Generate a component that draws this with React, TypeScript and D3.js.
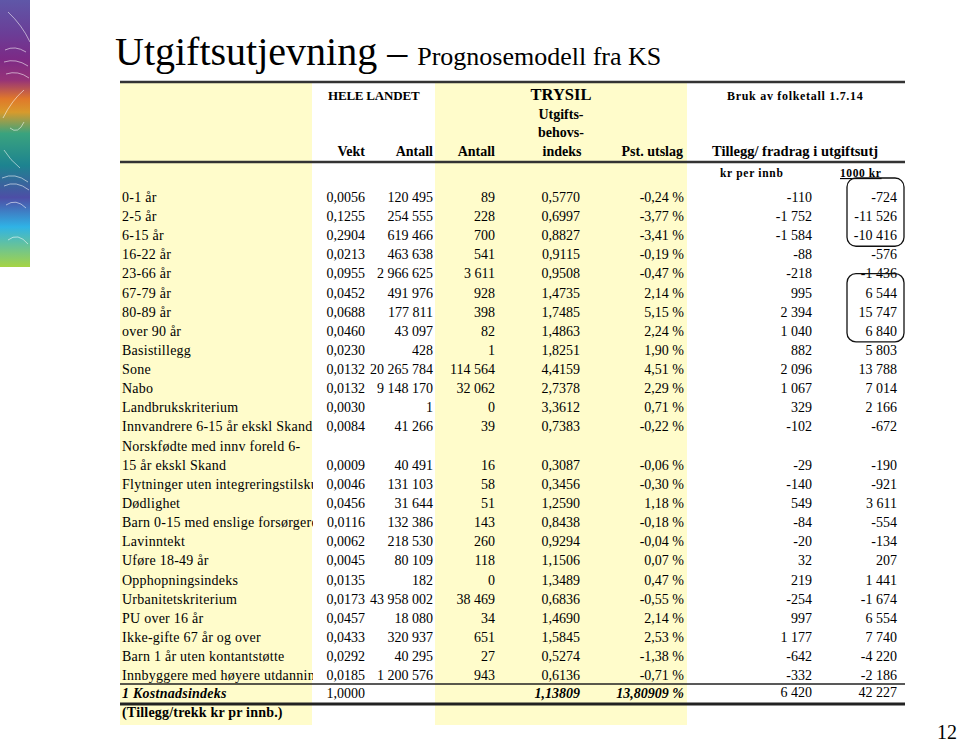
import React from "react";
import * as d3 from "d3";

const W = 959;
const H = 744;

// ---- data ----
const labels: string[][] = [
  ["0-1 år"], ["2-5 år"], ["6-15 år"], ["16-22 år"], ["23-66 år"], ["67-79 år"], ["80-89 år"],
  ["over 90 år"], ["Basistillegg"], ["Sone"], ["Nabo"], ["Landbrukskriterium"],
  ["Innvandrere 6-15 år ekskl Skand"],
  ["Norskfødte med innv foreld 6-", "15 år ekskl Skand"],
  ["Flytninger uten integreringstilskudd"], ["Dødlighet"], ["Barn 0-15 med enslige forsørgere"],
  ["Lavinntekt"], ["Uføre 18-49 år"], ["Opphopningsindeks"], ["Urbanitetskriterium"],
  ["PU over 16 år"], ["Ikke-gifte 67 år og over"], ["Barn 1 år uten kontantstøtte"],
  ["Innbyggere med høyere utdanning"],
];
const vekt = [0.0056, 0.1255, 0.2904, 0.0213, 0.0955, 0.0452, 0.0688, 0.0460, 0.0230, 0.0132, 0.0132, 0.0030, 0.0084, 0.0009, 0.0046, 0.0456, 0.0116, 0.0062, 0.0045, 0.0135, 0.0173, 0.0457, 0.0433, 0.0292, 0.0185];
const antallLandet = [120495, 254555, 619466, 463638, 2966625, 491976, 177811, 43097, 428, 20265784, 9148170, 1, 41266, 40491, 131103, 31644, 132386, 218530, 80109, 182, 43958002, 18080, 320937, 40295, 1200576];
const antallTrysil = [89, 228, 700, 541, 3611, 928, 398, 82, 1, 114564, 32062, 0, 39, 16, 58, 51, 143, 260, 118, 0, 38469, 34, 651, 27, 943];
const indeks = [0.5770, 0.6997, 0.8827, 0.9115, 0.9508, 1.4735, 1.7485, 1.4863, 1.8251, 4.4159, 2.7378, 3.3612, 0.7383, 0.3087, 0.3456, 1.2590, 0.8438, 0.9294, 1.1506, 1.3489, 0.6836, 1.4690, 1.5845, 0.5274, 0.6136];
const utslag = [-0.24, -3.77, -3.41, -0.19, -0.47, 2.14, 5.15, 2.24, 1.90, 4.51, 2.29, 0.71, -0.22, -0.06, -0.30, 1.18, -0.18, -0.04, 0.07, 0.47, -0.55, 2.14, 2.53, -1.38, -0.71];
const krPerInnb = [-110, -1752, -1584, -88, -218, 995, 2394, 1040, 882, 2096, 1067, 329, -102, -29, -140, 549, -84, -20, 32, 219, -254, 997, 1177, -642, -332];
const tusenKr = [-724, -11526, -10416, -576, -1436, 6544, 15747, 6840, 5803, 13788, 7014, 2166, -672, -190, -921, 3611, -554, -134, 207, 1441, -1674, 6554, 7740, -4220, -2186];

const totalLabel = "1 Kostnadsindeks";
const totalVekt = 1.0;
const totalIndeks = 1.13809;
const totalUtslag = 13.80909;
const totalKrPerInnb = 6420;
const totalTusenKr = 42227;

// boxed groups in "1000 kr" column (row index ranges)
const boxes: [number, number][] = [[0, 2], [5, 7]];

// ---- formatting ----
const loc = d3.formatLocale({ decimal: ",", thousands: " ", grouping: [3], currency: ["", " kr"], minus: "-" });
const f4 = loc.format(".4f");
const fInt = loc.format(",d");
const f2 = loc.format(".2f");
const f5 = loc.format(".5f");

const FONT = "'Liberation Serif', 'Times New Roman', serif";

export default function App() {
  // row positions: data item i -> visual row
  const rowOf = (i: number) => (i <= 12 ? i : i + 1);
  const y = d3.scaleLinear().domain([0, 27]).range([197, 197 + 27 * 19.13]);

  const x0 = 120, x1 = 905;
  const colRight = { vekt: 365, land: 433, trysil: 495, indeks: 580, utslag: 684, kr: 812, tusen: 897 };

  const yellow = "#fffccb";
  const gradStops = [
    [0, "#5f57a8"], [0.12, "#6a3f98"], [0.22, "#7c2a86"], [0.3, "#963378"], [0.37, "#e0782a"],
    [0.42, "#d89a2c"], [0.5, "#3aa37e"], [0.62, "#1d8390"], [0.74, "#4d4ea6"], [0.85, "#2fb3e6"], [1, "#a6d444"],
  ];

  const cell = (x: number, yy: number, text: string, extra: any = {}) => (
    <text x={x} y={yy} dy="0.35em" textAnchor="end" fontSize={14} {...extra}>{text}</text>
  );

  return (
    <svg width={W} height={H} style={{ position: "absolute", left: 0, top: 0, display: "block" }} fontFamily={FONT}>
      <defs>
        <linearGradient id="strip" x1="0" y1="0" x2="0" y2="1">
          {gradStops.map(([o, c], k) => <stop key={k} offset={o as number} stopColor={c as string} />)}
        </linearGradient>
        <clipPath id="labelClip"><rect x={118} y={0} width={195} height={H} /></clipPath>
      </defs>
      <rect x={0} y={0} width={W} height={H} fill="#fff" />
      {/* decorative strip */}
      <rect x={0} y={0} width={30} height={267} fill="url(#strip)" />
      <g fill="none" stroke="#fff" strokeOpacity={0.55} strokeWidth={1}>
        <path d="M8,12 Q22,25 30,42" />
        <path d="M5,50 Q15,45 26,52 M4,62 Q16,58 28,66 M6,74 Q18,70 29,78" />
        <path d="M3,118 Q12,100 24,90" />
        <path d="M10,128 Q18,135 24,122 M4,150 Q10,160 20,168" />
        <path d="M2,178 Q15,172 28,182 M4,186 Q16,180 29,190" />
        <path d="M6,205 Q16,198 26,208 M8,240 Q18,232 28,244" />
      </g>

      {/* title */}
      <text x={115} y={65} fill="#000">
        <tspan fontSize={40}>Utgiftsutjevning – </tspan>
        <tspan fontSize={26}>Prognosemodell fra KS</tspan>
      </text>

      {/* yellow backgrounds */}
      <rect x={x0} y={83} width={312 - x0} height={725 - 83} fill={yellow} />
      <rect x={435} y={83} width={687 - 435} height={725 - 83} fill={yellow} />

      {/* rules */}
      <line x1={x0} x2={x1} y1={82} y2={82} stroke="#333" strokeWidth={2.5} />
      <line x1={x0} x2={x1} y1={162} y2={162} stroke="#333" strokeWidth={2.5} />
      <line x1={x0} x2={x1} y1={684} y2={684} stroke="#222" strokeWidth={1.5} />
      <line x1={x0} x2={x1} y1={704} y2={704} stroke="#222" strokeWidth={3} />

      {/* header */}
      <g fontWeight="bold" fill="#000">
        <text x={328} y={100} fontSize={13} letterSpacing={-0.2}>HELE LANDET</text>
        <text x={561} y={100} fontSize={16.5} textAnchor="middle">TRYSIL</text>
        <text x={561} y={119} fontSize={14} textAnchor="middle">Utgifts-</text>
        <text x={561} y={137} fontSize={14} textAnchor="middle">behovs-</text>
        <text x={562} y={156} fontSize={14} textAnchor="middle">indeks</text>
        <text x={colRight.vekt} y={156} fontSize={14} textAnchor="end">Vekt</text>
        <text x={colRight.land} y={156} fontSize={14} textAnchor="end">Antall</text>
        <text x={colRight.trysil} y={156} fontSize={14} textAnchor="end">Antall</text>
        <text x={683} y={156} fontSize={14} textAnchor="end">Pst. utslag</text>
        <text x={712} y={156} fontSize={14.5}>Tillegg/ fradrag i utgiftsutj</text>
        <text x={727} y={100} fontSize={12} letterSpacing={0.7}>Bruk av folketall 1.7.14</text>
        <text x={720} y={177} fontSize={11.5} letterSpacing={0.7}>kr per innb</text>
        <text x={840} y={177} fontSize={11.5} letterSpacing={0.6} textDecoration="underline">1000 kr</text>
      </g>

      {/* body */}
      <g fill="#000">
        <g clipPath="url(#labelClip)">
          {labels.map((lines, i) =>
            lines.map((l, k) => (
              <text key={`${i}-${k}`} x={122} y={y(rowOf(i) - (lines.length - 1) + k)} dy="0.35em" fontSize={14} letterSpacing={0.25}>{l}</text>
            ))
          )}
        </g>
        {vekt.map((v, i) => {
          const yy = y(rowOf(i));
          return (
            <g key={i}>
              {cell(colRight.vekt, yy, f4(v))}
              {cell(colRight.land, yy, fInt(antallLandet[i]))}
              {cell(colRight.trysil, yy, fInt(antallTrysil[i]))}
              {cell(colRight.indeks, yy, f4(indeks[i]))}
              {cell(colRight.utslag, yy, f2(utslag[i]) + " %")}
              {cell(colRight.kr, yy, fInt(krPerInnb[i]))}
              {cell(colRight.tusen, yy, fInt(tusenKr[i]))}
            </g>
          );
        })}
        {/* totals */}
        <text x={122} y={y(26) - 1} dy="0.35em" fontSize={14} fontWeight="bold" fontStyle="italic" letterSpacing={0.25}>{totalLabel}</text>
        {cell(colRight.vekt, y(26) - 1, f4(totalVekt))}
        {cell(colRight.indeks, y(26) - 1, f5(totalIndeks), { fontWeight: "bold", fontStyle: "italic" })}
        {cell(colRight.utslag, y(26) - 1, f5(totalUtslag) + " %", { fontWeight: "bold", fontStyle: "italic" })}
        {cell(colRight.kr, y(26) - 2, fInt(totalKrPerInnb))}
        {cell(colRight.tusen, y(26) - 2, fInt(totalTusenKr))}
        <text x={122} y={y(27) - 1} dy="0.35em" fontSize={14} fontWeight="bold" letterSpacing={0.2}>(Tillegg/trekk kr pr innb.)</text>
      </g>

      {/* rounded boxes */}
      {boxes.map(([a, b], k) => (
        <rect key={k} x={847} y={y(a) - 19} width={57} height={y(b) - y(a) + 30} rx={9}
          fill="none" stroke="#111" strokeWidth={1.3} />
      ))}

      {/* page number */}
      <text x={957} y={739} fontSize={20} textAnchor="end" fill="#000">12</text>
    </svg>
  );
}
